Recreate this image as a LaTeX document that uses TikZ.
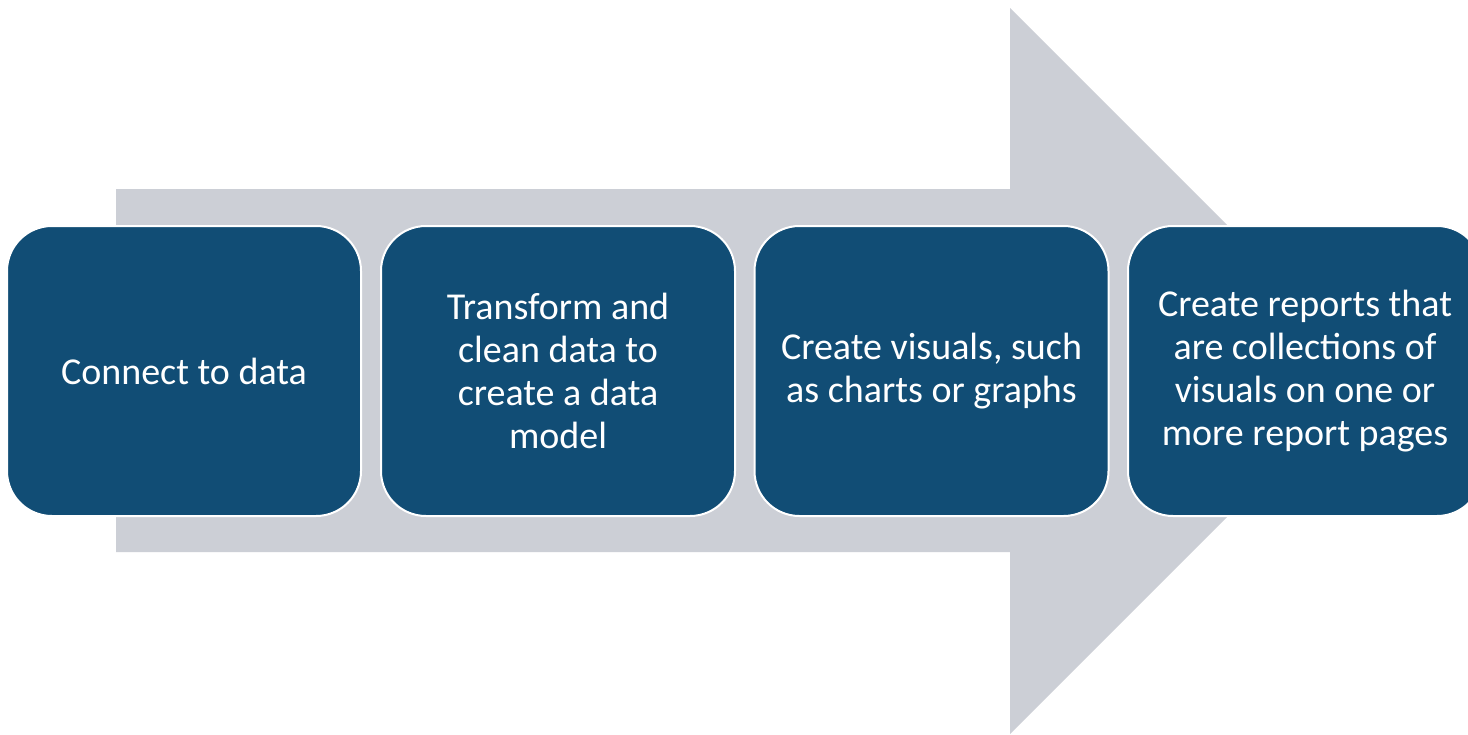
\documentclass[tikz,border=0pt]{standalone}
\usepackage{fontspec}
\setmainfont{Carlito}
\definecolor{boxblue}{RGB}{17,77,117}
\definecolor{arrowgrey}{RGB}{204,207,214}
\tikzset{
  stepbox/.style={draw=white, line width=2pt, fill=boxblue, rounded corners=45pt,
    minimum width=354pt, minimum height=290pt, inner sep=0pt,
    text=white, align=center, font=\fontsize{38}{43}\selectfont},
  bigarrow/.style={fill=arrowgrey, draw=none}
}
\begin{document}
\begin{tikzpicture}[x=1pt,y=-1pt]
\useasboundingbox (0,0) rectangle (1468,734);
\clip (0,0) rectangle (1468,734);
\fill[white] (0,0) rectangle (1468,734);
\path[bigarrow] (116,189) -- (1010,189) -- (1010,8) -- (1373,371) -- (1010,734) -- (1010,552) -- (116,552) -- cycle;
\node[stepbox] (s1) at (184,371) {Connect to data};
\node[stepbox] (s2) at (558,371) {Transform and\\clean data to\\create a data\\model};
\node[stepbox] (s3) at (931.5,371) {Create visuals, such\\as charts or graphs};
\node[stepbox] (s4) at (1305,371) {Create reports that\\are collections of\\visuals on one or\\more report pages};
\end{tikzpicture}
\end{document}
